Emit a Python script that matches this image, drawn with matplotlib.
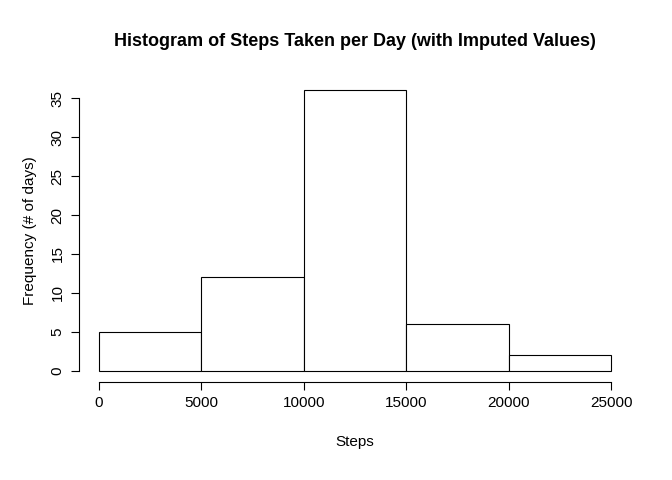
import matplotlib.pyplot as plt

plt.rcParams['font.family'] = ['Liberation Sans', 'DejaVu Sans']

bin_edges = [0, 5000, 10000, 15000, 20000, 25000]
counts = [5, 12, 36, 6, 2]
x_ticks = [0, 5000, 10000, 15000, 20000, 25000]
y_ticks = [0, 5, 10, 15, 20, 25, 30, 35]

W, H = 672, 480
fig = plt.figure(figsize=(W / 100, H / 100), dpi=100)
left, right, top, bottom = 78.5, 631.5, 79, 382.2
ax = fig.add_axes([left / W, 1 - bottom / H, (right - left) / W, (bottom - top) / H])

widths = [bin_edges[i + 1] - bin_edges[i] for i in range(len(counts))]
ax.bar(bin_edges[:-1], counts, width=widths, align='edge',
       facecolor='white', edgecolor='black', linewidth=0.8)

ax.set_xlim(-1000, 26000)
ax.set_ylim(-1.44, 37.44)
for s in ['top', 'right']:
    ax.spines[s].set_visible(False)
ax.spines['left'].set_bounds(0, 35)
ax.spines['bottom'].set_bounds(0, 25000)
ax.spines['left'].set_position(('outward', 0))
ax.set_xticks(x_ticks)
ax.set_xticklabels([str(v) for v in x_ticks])
ax.set_yticks(y_ticks)
ax.set_yticklabels([str(v) for v in y_ticks], rotation=90, va='center')
ax.tick_params(direction='out', length=6, width=0.8, labelsize=11, pad=4)

ax.set_xlabel('Steps', fontsize=11, labelpad=18)
ax.set_ylabel('Frequency (# of days)', fontsize=11, labelpad=10)
fig.text(355 / W, 1 - 42 / H, 'Histogram of Steps Taken per Day (with Imputed Values)',
         ha='center', va='center', fontsize=13, fontweight='bold')

fig.savefig('out.png', dpi=100)
